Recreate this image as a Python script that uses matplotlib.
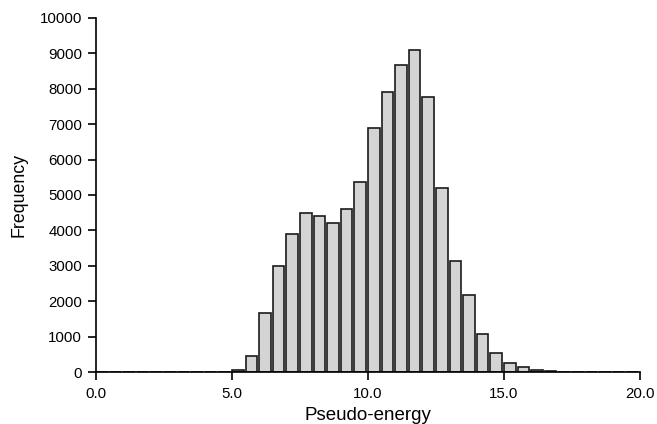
import numpy as np
import matplotlib.pyplot as plt

plt.rcParams['font.family'] = ['Liberation Sans', 'DejaVu Sans']

# histogram bins (left edges, width 0.5) and counts
bin_width = 0.5
bin_left = np.arange(0.0, 20.0, bin_width)
counts = [0, 0, 0, 0, 0, 0, 0, 0, 0, 0,
          50, 450, 1660, 3000, 3910, 4480, 4410, 4200, 4610, 5360,
          6880, 7910, 8670, 9090, 7760, 5190, 3130, 2180, 1060, 550,
          260, 130, 45, 20, 10, 6, 4, 3, 2, 1]

fig = plt.figure(figsize=(6.57, 4.24), dpi=100)
ax = fig.add_axes([0.146, 0.1226, 0.828, 0.835])

ax.bar(bin_left, counts, width=bin_width * 0.86, align='edge',
       color='#d4d4d4', edgecolor='#1a1a1a', linewidth=1.2)

ax.set_xlim(0, 20)
ax.set_ylim(0, 10000)
ax.set_xticks([0, 5, 10, 15, 20])
ax.set_xticklabels(["0.0", "5.0", "10.0", "15.0", "20.0"])
ax.set_yticks(np.arange(0, 10001, 1000))

ax.spines['top'].set_visible(False)
ax.spines['right'].set_visible(False)
ax.spines['left'].set_linewidth(1.2)
ax.spines['bottom'].set_linewidth(1.2)
ax.tick_params(direction='out', length=5.5, width=1.2, labelsize=10.8, pad=4.5)
ax.tick_params(axis='x', pad=5.5)

ax.set_xlabel("Pseudo-energy", fontsize=13.5, labelpad=4)
ax.set_ylabel("Frequency", fontsize=12.8, labelpad=9)

fig.savefig("out.png", dpi=100)
